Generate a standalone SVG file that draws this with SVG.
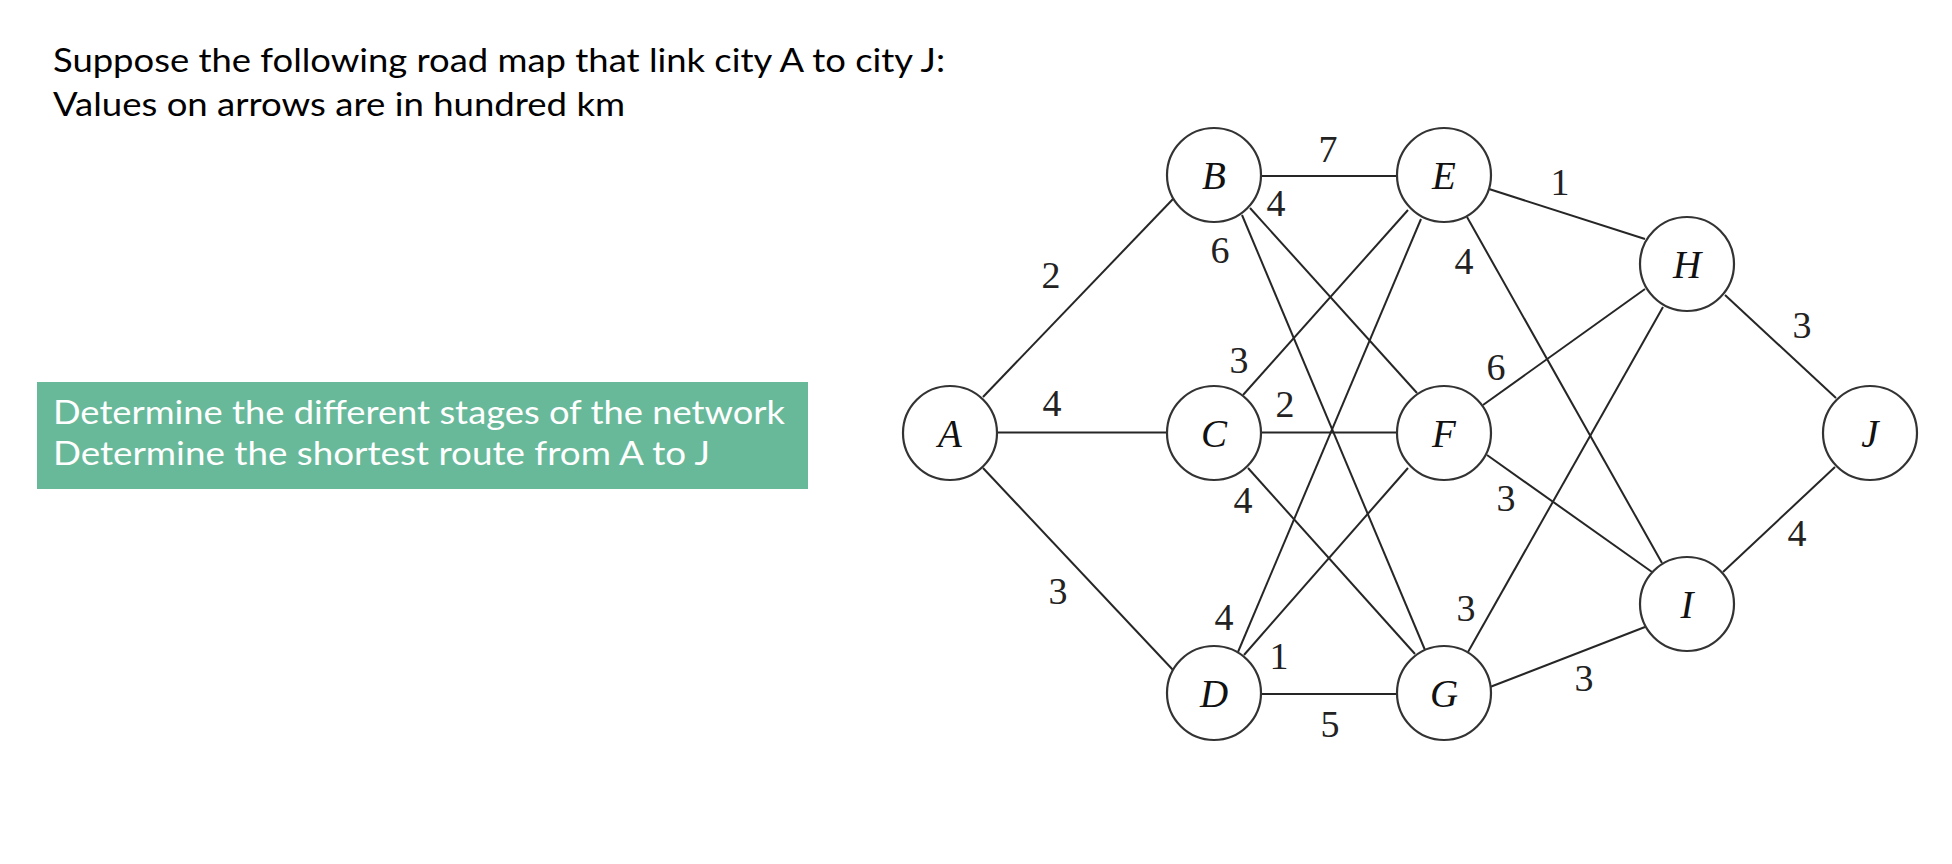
<svg xmlns="http://www.w3.org/2000/svg" width="1952" height="864" viewBox="0 0 1952 864">
<style>
.hdr{font-family:Lato,"Open Sans","Liberation Sans",sans-serif;font-size:33px;fill:#000}
.task{font-family:Lato,"Open Sans","Liberation Sans",sans-serif;font-size:33px;fill:#fff}
.edge{stroke:#262626;stroke-width:2;fill:none}
.node{fill:#fff;stroke:#333;stroke-width:2.2}
.nl{font-family:"Liberation Serif","Times New Roman",serif;font-style:italic;font-size:39px;fill:#111;text-anchor:middle}
.w{font-family:"Liberation Serif","Times New Roman",serif;font-size:38px;fill:#222;text-anchor:middle}
</style>
<rect width="1952" height="864" fill="#fff"/>
<g id="header">
<text class="hdr" x="53" y="72" textLength="892" lengthAdjust="spacingAndGlyphs">Suppose the following road map that link city A to city J:</text>
<text class="hdr" x="53" y="116" textLength="572" lengthAdjust="spacingAndGlyphs">Values on arrows are in hundred km</text>
</g>
<g id="task-box">
<rect x="37" y="382" width="771" height="107" fill="#67b99a"/>
<text class="task" x="53" y="424" textLength="732" lengthAdjust="spacingAndGlyphs">Determine the different stages of the network</text>
<text class="task" x="53" y="465" textLength="657" lengthAdjust="spacingAndGlyphs">Determine the shortest route from A to J</text>
</g>
<g id="connectors">
<line class="edge" x1="983" y1="397" x2="1173" y2="199"/>
<line class="edge" x1="997" y1="432.5" x2="1167" y2="432.5"/>
<line class="edge" x1="983" y1="468" x2="1173" y2="670"/>
<line class="edge" x1="1261" y1="176" x2="1397" y2="176"/>
<line class="edge" x1="1250" y1="208" x2="1417" y2="393"/>
<line class="edge" x1="1242" y1="215" x2="1425" y2="650"/>
<line class="edge" x1="1243" y1="395" x2="1408" y2="210"/>
<line class="edge" x1="1261" y1="432.5" x2="1397" y2="432.5"/>
<line class="edge" x1="1248" y1="468" x2="1415" y2="654"/>
<line class="edge" x1="1238" y1="652" x2="1421" y2="219"/>
<line class="edge" x1="1244" y1="655" x2="1408" y2="468"/>
<line class="edge" x1="1261" y1="694" x2="1397" y2="694"/>
<line class="edge" x1="1489" y1="189" x2="1645" y2="239"/>
<line class="edge" x1="1467" y1="217" x2="1662" y2="563"/>
<line class="edge" x1="1483" y1="405" x2="1645" y2="289"/>
<line class="edge" x1="1487" y1="455" x2="1652" y2="572"/>
<line class="edge" x1="1468" y1="652" x2="1663" y2="307"/>
<line class="edge" x1="1490" y1="687" x2="1645" y2="627"/>
<line class="edge" x1="1725" y1="295" x2="1836" y2="398"/>
<line class="edge" x1="1723" y1="572" x2="1835" y2="467"/>
</g>
<g id="weights">
<text class="w" x="1328" y="162">7</text>
<text class="w" x="1276" y="216">4</text>
<text class="w" x="1220" y="263">6</text>
<text class="w" x="1051" y="288">2</text>
<text class="w" x="1239" y="373">3</text>
<text class="w" x="1052" y="416">4</text>
<text class="w" x="1285" y="417">2</text>
<text class="w" x="1243" y="513">4</text>
<text class="w" x="1058" y="604">3</text>
<text class="w" x="1224" y="630">4</text>
<text class="w" x="1279" y="669">1</text>
<text class="w" x="1330" y="737">5</text>
<text class="w" x="1560" y="195">1</text>
<text class="w" x="1464" y="274">4</text>
<text class="w" x="1496" y="380">6</text>
<text class="w" x="1802" y="338">3</text>
<text class="w" x="1506" y="511">3</text>
<text class="w" x="1797" y="546">4</text>
<text class="w" x="1466" y="621">3</text>
<text class="w" x="1584" y="691">3</text>
</g>
<g id="node-A"><circle class="node" cx="950" cy="433" r="47"/><text class="nl" x="950" y="447">A</text></g>
<g id="node-B"><circle class="node" cx="1214" cy="175" r="47"/><text class="nl" x="1214" y="189">B</text></g>
<g id="node-C"><circle class="node" cx="1214" cy="433" r="47"/><text class="nl" x="1214" y="447">C</text></g>
<g id="node-D"><circle class="node" cx="1214" cy="693" r="47"/><text class="nl" x="1214" y="707">D</text></g>
<g id="node-E"><circle class="node" cx="1444" cy="175" r="47"/><text class="nl" x="1444" y="189">E</text></g>
<g id="node-F"><circle class="node" cx="1444" cy="433" r="47"/><text class="nl" x="1444" y="447">F</text></g>
<g id="node-G"><circle class="node" cx="1444" cy="693" r="47"/><text class="nl" x="1444" y="707">G</text></g>
<g id="node-H"><circle class="node" cx="1687" cy="264" r="47"/><text class="nl" x="1687" y="278">H</text></g>
<g id="node-I"><circle class="node" cx="1687" cy="604" r="47"/><text class="nl" x="1687" y="618">I</text></g>
<g id="node-J"><circle class="node" cx="1870" cy="433" r="47"/><text class="nl" x="1870" y="447">J</text></g>
</svg>
